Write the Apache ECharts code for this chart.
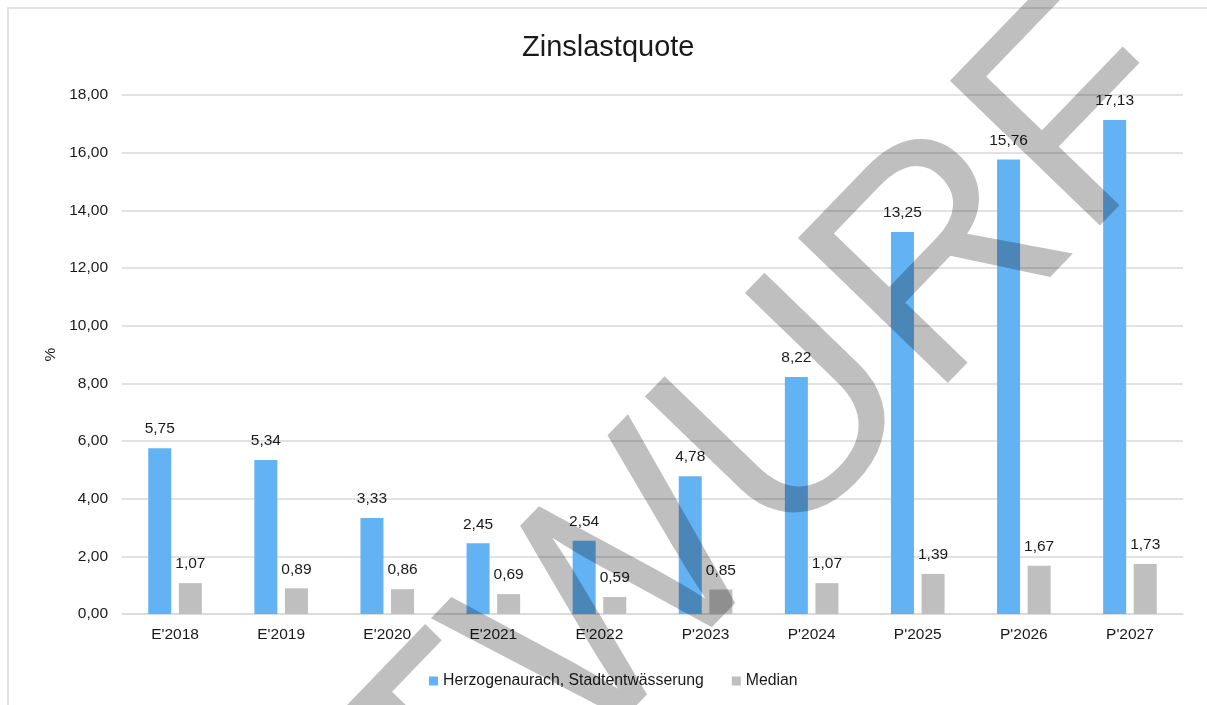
<!DOCTYPE html>
<html>
<head>
<meta charset="utf-8">
<script src="https://cdn.jsdelivr.net/npm/echarts@6/dist/echarts.min.js"></script>
<style>
  html, body { margin: 0; padding: 0; background: #fff; }
  #chart { width: 1207px; height: 705px; }
</style>
</head>
<body>
<div id="chart"></div>
<script>
const categories = ["E'2018", "E'2019", "E'2020", "E'2021", "E'2022", "P'2023", "P'2024", "P'2025", "P'2026", "P'2027"]
const herzogenaurach = [5.75, 5.34, 3.33, 2.45, 2.54, 4.78, 8.22, 13.25, 15.76, 17.13]
const median = [1.07, 0.89, 0.86, 0.69, 0.59, 0.85, 1.07, 1.39, 1.67, 1.73]
const seriesNames = ['Herzogenaurach, Stadtentwässerung', 'Median']

const font = "'Liberation Sans', Arial, sans-serif"
const textColor = '#1a1a1a'
const gridColor = '#d9d9d9'

const comma = v => v.toFixed(2).replace('.', ',')

const chart = echarts.init(document.getElementById('chart'))

const barLabel = {
  show: true,
  position: 'top',
  distance: 11,
  fontSize: 15.5,
  fontFamily: font,
  color: textColor,
  formatter: p => comma(p.value)
}

const option = {
  animation: false,
  textStyle: { fontFamily: font },
  title: {
    text: 'Zinslastquote',
    left: 517,
    top: 28,
    textStyle: { fontSize: 29, fontWeight: 'normal', color: textColor, fontFamily: font }
  },
  legend: {
    data: seriesNames,
    left: 424,
    top: 668,
    itemWidth: 9,
    itemHeight: 9,
    itemGap: 28,
    icon: 'rect',
    textStyle: { fontSize: 15.8, color: textColor, fontFamily: font }
  },
  grid: {
    left: 122,
    right: 24,
    top: 95,
    bottom: 91
  },
  xAxis: {
    type: 'category',
    data: categories,
    axisTick: { show: false },
    axisLine: { lineStyle: { color: gridColor, width: 1.5 } },
    axisLabel: { fontSize: 15.5, color: textColor, margin: 13, fontFamily: font }
  },
  yAxis: {
    type: 'value',
    min: 0,
    max: 18,
    interval: 2,
    name: '%',
    nameLocation: 'middle',
    nameRotate: 90,
    nameGap: 63,
    nameTextStyle: { fontSize: 15.5, color: textColor, fontFamily: font },
    axisLabel: { fontSize: 15.5, color: textColor, margin: 14, fontFamily: font, formatter: v => comma(v) },
    splitLine: { lineStyle: { color: gridColor, width: 1.5 } }
  },
  series: [
    {
      name: seriesNames[0],
      type: 'bar',
      data: herzogenaurach,
      barWidth: 23,
      barGap: '33%',
      itemStyle: { color: '#63b3f4' },
      label: barLabel
    },
    {
      name: seriesNames[1],
      type: 'bar',
      data: median,
      barWidth: 23,
      barGap: '33%',
      itemStyle: { color: '#bfbfbf' },
      label: barLabel
    }
  ],
  graphic: [
    {
      type: 'rect',
      z: -1,
      shape: { x: 8, y: 8, width: 1400, height: 900 },
      style: { fill: 'none', stroke: gridColor, lineWidth: 1.5 },
      silent: true
    },
    {
      // watermark
      type: 'text',
      z: 100,
      x: 625,
      y: 597,
      rotation: 46 * Math.PI / 180,
      silent: true,
      style: {
        text: 'ENTWURF',
        fontSize: 303,
        fontFamily: font,
        fill: 'rgba(0,0,0,0.25)',
        align: 'center',
        verticalAlign: 'middle'
      }
    }
  ]
}

chart.setOption(option)
</script>
</body>
</html>
